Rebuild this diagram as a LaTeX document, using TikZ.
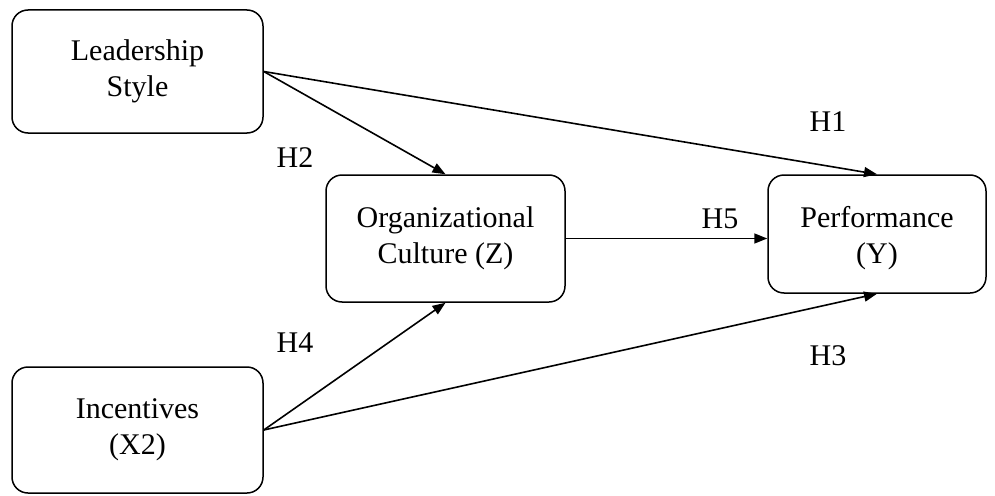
\documentclass[tikz,border=0pt]{standalone}
\usepackage{fontspec}
\setmainfont{Liberation Serif}
\usepackage{tikz}
\usetikzlibrary{positioning,arrows.meta}

\begin{document}
\begin{tikzpicture}[x=1pt, y=-1pt, font=\fontsize{30}{36}\selectfont,
  box/.style={draw, line width=1.5pt, rounded corners=16pt, align=center, inner sep=2pt},
  lbl/.style={inner sep=0pt},
  arr/.style={-{Triangle[length=13pt, width=10pt]}, line width=1.6pt}]
\useasboundingbox (0,0) rectangle (995,495);
\node[box, minimum width=251pt, minimum height=123pt] (lead) at (137.5,71.5) {Leadership\\Style};
\node[box, minimum width=239pt, minimum height=127pt] (org) at (445.5,238.5) {Organizational\\Culture (Z)};
\node[box, minimum width=218pt, minimum height=118pt] (perf) at (877,234) {\rule{0pt}{30pt}Performance\\(Y)};
\node[box, minimum width=251pt, minimum height=126pt] (inc) at (137.5,430) {Incentives\\(X2)};
\draw[arr] (lead.east) -- (org.north);
\draw[arr] (lead.east) -- (perf.north);
\draw[arr] (org.east) -- (org.east -| perf.west);
\draw[arr] (inc.east) -- (org.south);
\draw[arr] (inc.east) -- (perf.south);
\node[lbl] (h1) at (828,122) {H1};
\node[lbl] (h2) at (295,158) {H2};
\node[lbl] (h5) at (720,219) {H5};
\node[lbl] (h4) at (295,343) {H4};
\node[lbl] (h3) at (828,356) {H3};
\end{tikzpicture}
\end{document}
